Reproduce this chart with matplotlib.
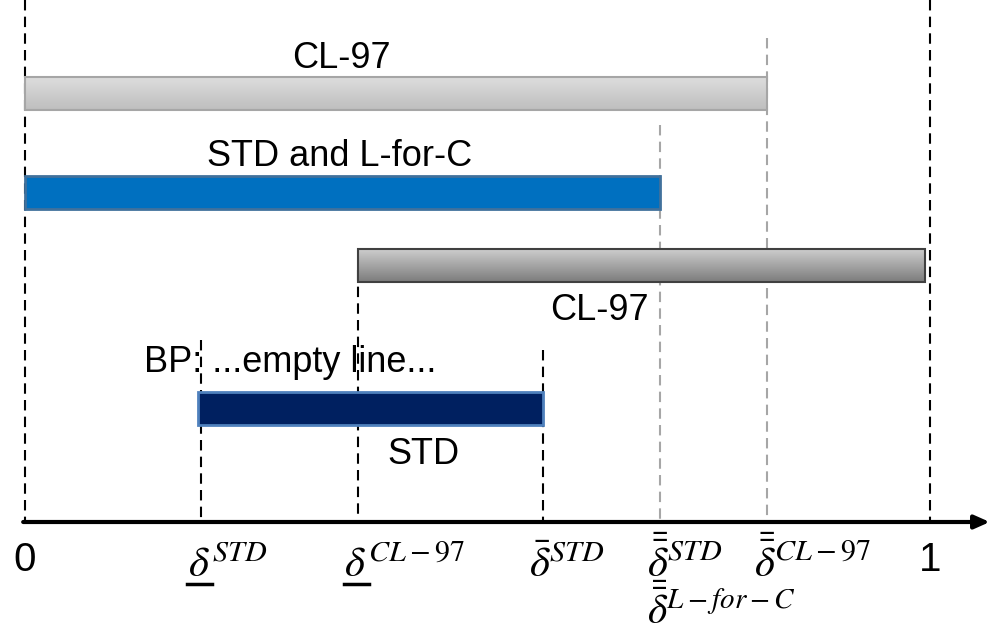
import numpy as np
import matplotlib
matplotlib.use('Agg')
import matplotlib.pyplot as plt
from matplotlib.patches import Rectangle

plt.rcParams['font.family'] = ['Liberation Sans', 'DejaVu Sans']
plt.rcParams['mathtext.fontset'] = 'stix'

# interval bars on the [0, 1] line
bar_names = ['CL-97', 'STD and L-for-C', 'CL-97', 'BP']
bar_start = [0.0, 0.0, 0.368, 0.191]
bar_end = [0.820, 0.702, 0.995, 0.572]

# marked points on the line
tick_pos = [0.0, 0.195, 0.368, 0.572, 0.702, 0.820, 1.0]
tick_text = ['0', r'$\delta^{STD}$', r'$\delta^{CL-97}$',
             r'$\bar{\delta}^{STD}$', r'$\bar{\bar{\delta}}^{STD}$',
             r'$\bar{\bar{\delta}}^{CL-97}$', '1']
underlined = [False, True, True, False, False, False, False]
extra_pos = 0.702
extra_text = r'$\bar{\bar{\delta}}^{L-for-C}$'

fig = plt.figure(figsize=(9.92, 6.35), dpi=100)
ax = fig.add_axes([0, 0, 1, 1])
ax.axis('off')

axis_y = 522
bar_h = 33
rows = [93, 192, 265, 408]

# dashed guide lines: (x, top, colour)
guides = [(tick_pos[0], 0, 'black'), (tick_pos[6], 0, 'black'),
          (tick_pos[5], 38, '#a6a6a6'), (tick_pos[4], 125, '#a6a6a6'),
          (tick_pos[2], 270, 'black'), (tick_pos[1], 340, 'black'),
          (tick_pos[3], 350, 'black')]
for gx, top, col in guides:
    ax.plot([gx, gx], [top, axis_y], color=col, lw=1.5, ls=(0, (5, 3)), zorder=1)

def gradient_bar(x0, x1, yc, c_top, c_bot, edge):
    grad = np.linspace(0, 1, 50).reshape(-1, 1)
    ct = np.array(matplotlib.colors.to_rgb(c_top))
    cb = np.array(matplotlib.colors.to_rgb(c_bot))
    img = ct + (cb - ct) * grad[:, :, None]
    ax.imshow(img, extent=[x0, x1, yc + bar_h / 2, yc - bar_h / 2],
              aspect='auto', zorder=2)
    ax.add_patch(Rectangle((x0, yc - bar_h / 2), x1 - x0, bar_h,
                           fill=False, ec=edge, lw=1.5, zorder=3))

gradient_bar(bar_start[0], bar_end[0], rows[0], '#dedede', '#bfbfbf', '#a6a6a6')
ax.add_patch(Rectangle((bar_start[1], rows[1] - bar_h / 2), bar_end[1] - bar_start[1], bar_h,
                       fc='#0070c0', ec='#41719c', lw=2, zorder=3))
gradient_bar(bar_start[2], bar_end[2], rows[2], '#cfcfcf', '#7f7f7f', '#404040')
ax.add_patch(Rectangle((bar_start[3], rows[3] - bar_h / 2), bar_end[3] - bar_start[3], bar_h,
                       fc='#002060', ec='#4f81bd', lw=2, zorder=3))
ax.set_xlim(-25 / 905, 967 / 905)
ax.set_ylim(635, 0)

fs = 26
ax.text(0.350, 58, bar_names[0], ha='center', va='center', fontsize=fs)
ax.text(0.348, 156, bar_names[1], ha='center', va='center', fontsize=fs)
ax.text(0.635, 310, bar_names[2], ha='center', va='center', fontsize=fs)
ax.text(0.293, 362, bar_names[3] + ': ...empty line...', ha='center', va='center', fontsize=fs)
ax.text(0.400, 455, 'STD', ha='left', va='center', fontsize=fs)

# number line with arrow
ax.annotate('', xy=(1.066, axis_y), xytext=(-0.002, axis_y),
            arrowprops=dict(arrowstyle='-|>,head_length=0.9,head_width=0.4',
                            color='black', lw=3, shrinkA=0, shrinkB=0), zorder=4)

for p, t, u in zip(tick_pos, tick_text, underlined):
    if t.startswith('$'):
        ax.text(p - 0.015, 577, t, ha='left', va='baseline', fontsize=31)
        if u:
            ax.plot([p - 0.016, p + 0.012], [584, 584], color='black', lw=2.5)
    else:
        ax.text(p, 560, t, ha='center', va='center', fontsize=29)
ax.text(extra_pos - 0.015, 624, extra_text, ha='left', va='baseline', fontsize=30)

fig.savefig('out.png', dpi=100)
